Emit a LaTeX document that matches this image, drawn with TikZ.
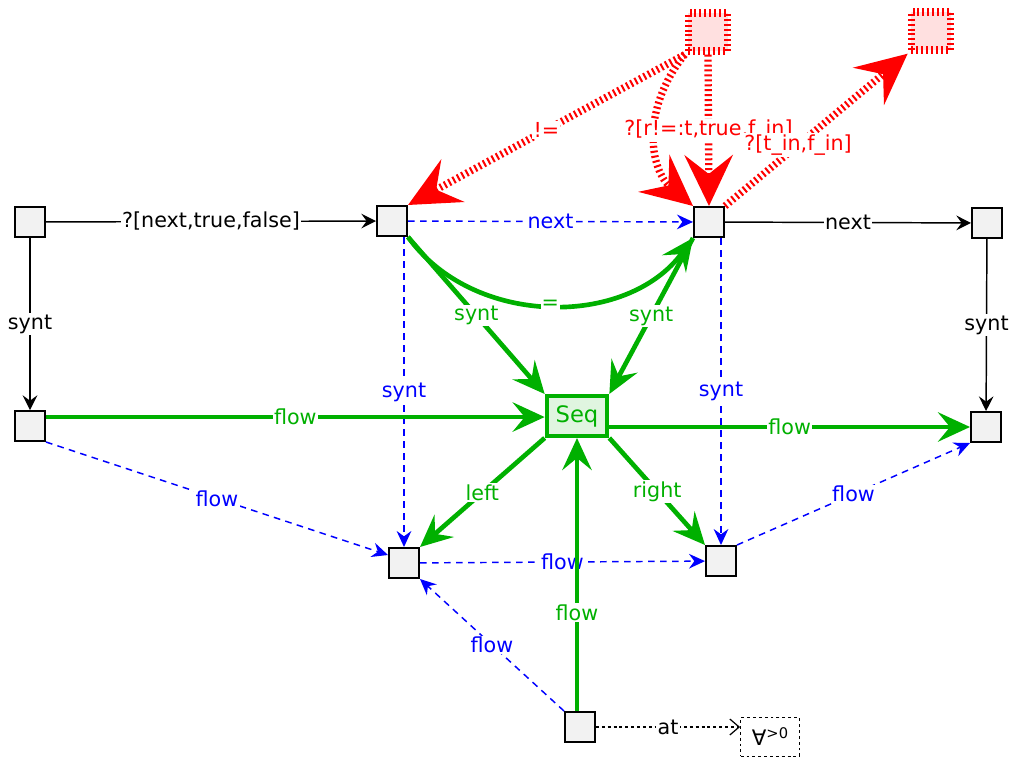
\documentclass[tikz,border=0pt]{standalone}
\usepackage{fontspec}
\setmainfont{DejaVu Sans}
\usetikzlibrary{arrows.meta,calc}
\definecolor{grn}{RGB}{0,176,0}
\definecolor{blu}{RGB}{0,0,255}
\definecolor{rd}{RGB}{255,0,0}
\definecolor{boxfill}{RGB}{242,242,242}
\definecolor{seqfill}{RGB}{224,245,224}
\definecolor{pinkfill}{RGB}{255,224,224}
\tikzset{
  lblfont/.style={font=\fontsize{15.5}{18}\selectfont},
  box/.style={draw=black, line width=1.2pt, fill=boxfill, minimum size=22.8pt, inner sep=0pt},
  seqbox/.style={draw=grn, line width=3pt, fill=seqfill, minimum width=45.5pt, minimum height=30pt, inner sep=0pt, text=grn, font=\fontsize{17}{19}\selectfont},
  redbox/.style={draw=rd, line width=5.5pt, dash pattern=on 1.5pt off 2.2pt, fill=pinkfill, minimum width=29.5pt, minimum height=28.5pt, inner sep=0pt},
  forallbox/.style={draw=black, line width=0.9pt, dash pattern=on 2.2pt off 2.2pt, fill=white, minimum width=44pt, minimum height=29pt, inner sep=0pt, font=\fontsize{16}{18}\selectfont},
  lbl/.style={fill=white, inner sep=1pt, lblfont},
  blk/.style={draw=black, line width=1.1pt, -{Stealth[length=11pt,width=11pt,inset=4pt]}},
  bluedash/.style={draw=blu, line width=1.1pt, dash pattern=on 5pt off 4pt, -{Stealth[length=12pt,width=11pt,inset=4pt]}},
  grnline/.style={draw=grn, line width=3.5pt, -{Stealth[length=24pt,width=22pt,inset=9pt]}},
  redline/.style={draw=rd, line width=5.5pt, dash pattern=on 1.5pt off 2.2pt, -{Stealth[length=38pt,width=36pt,inset=14pt]}},
  dotline/.style={draw=black, line width=0.9pt, dash pattern=on 2.2pt off 2.2pt, -{Straight Barb[length=7pt,width=12pt]}},
}
\begin{document}
\begin{tikzpicture}[x=0.75pt,y=-0.75pt]
\useasboundingbox (0,0) rectangle (1009,760);

% nodes
\node[box] (A) at (30,222) {};
\node[box] (B) at (392,221) {};
\node[box] (C) at (709,222) {};
\node[box] (D) at (987,223) {};
\node[box] (E) at (30,426) {};
\node[seqbox] (Seq) at (577,416) {Seq};
\node[box] (F) at (986,427) {};
\node[box] (G) at (404,563) {};
\node[box] (H) at (721,561) {};
\node[box] (I) at (580,727) {};
\node[forallbox] (J) at (770,737) {∀\raisebox{0.6ex}{\fontsize{11}{12}\selectfont >0}};
\node[redbox] (R1) at (708,32) {};
\node[redbox] (R2) at (931,31) {};

% black edges
\draw[blk] (A) -- node[lbl] {?[next,true,false]} (B);
\draw[blk] (C) -- node[lbl] {next} (D);
\draw[blk] (A) -- node[lbl] {synt} (E);
\draw[blk] (D) -- node[lbl] {synt} (F);
\draw[dotline] (I.east) -- node[lbl] {at} (J.west |- I.east);

% blue dashed edges
\draw[bluedash] (B) -- node[lbl, text=blu] {next} (C);
\draw[bluedash] (G |- B.south) -- node[lbl, text=blu] {synt} (G.north);
\draw[bluedash] (H |- C.south) -- node[lbl, text=blu] {synt} (H.north);
\coordinate (g1) at ($(G.north west)!0.25!(G.south west)$);
\draw[bluedash] (E.south east) -- node[lbl, text=blu] {flow} (g1);
\draw[bluedash] (G) -- node[lbl, text=blu] {flow} (H);
\draw[bluedash] (H.north east) -- node[lbl, text=blu] {flow} (F.south west);
\draw[bluedash] (I.north west) -- node[lbl, text=blu] {flow} (G.south east);

% green edges
\coordinate (e1) at ($(E.north east)!0.22!(E.south east)$);
\draw[grnline] (e1) -- node[lbl, text=grn] {flow} (e1 -| Seq.west);
\draw[grnline] (Seq.east |- F.west) -- node[lbl, text=grn] {flow} (F.west);
\draw[grnline] (B.south east) -- node[lbl, text=grn] {synt} (Seq.north west);
\draw[grnline] (C.south west) -- node[lbl, text=grn] {synt} (Seq.north east);
\draw[grnline] (B.south east) to[bend right=54] node[lbl, text=grn, inner sep=0.5pt] {=} (C.south west);
\draw[grnline] (Seq.south west) -- node[lbl, text=grn] {left} (G.north east);
\draw[grnline] (Seq.south east) -- node[lbl, text=grn] {right} (H.north west);
\draw[grnline] (Seq |- I.north) -- node[lbl, text=grn, pos=0.36] {flow} (Seq.south);

% red edges
\draw[redline] (R1.south west) -- node[lbl, text=rd] {!=} (B.north east);
\draw[redline] (R1.south west) .. controls (640,110) and (650,170) .. (C.north west);
\draw[redline] (R1.south) -- node[lbl, text=rd] {?[r!=:t,true,f\_in]} (C.north);
\draw[redline] (C.north east) -- node[lbl, text=rd, pos=0.4] {?[t\_in,f\_in]} (R2.south west);
\end{tikzpicture}
\end{document}
